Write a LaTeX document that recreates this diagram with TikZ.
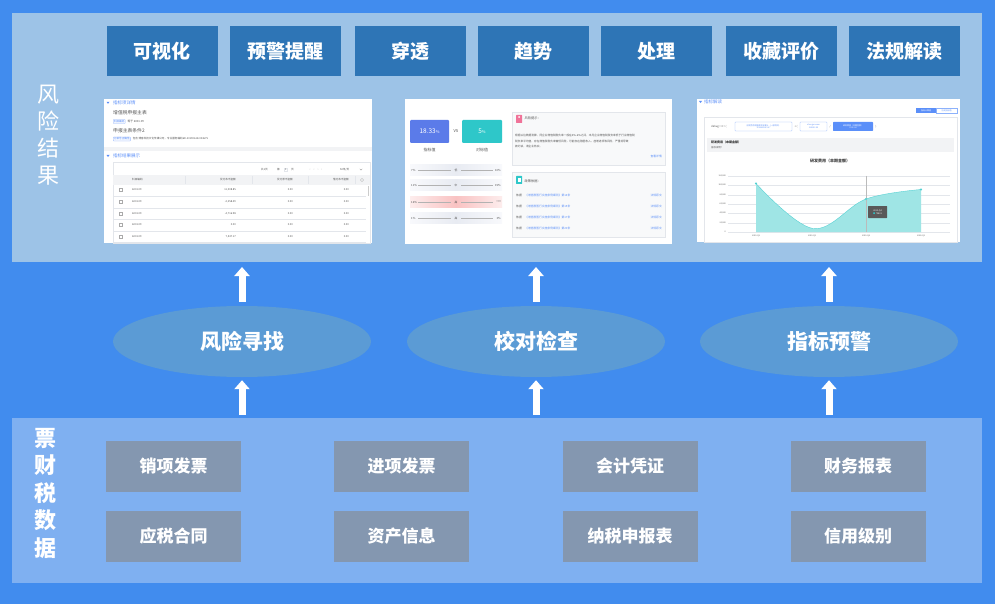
\documentclass[tikz,border=0pt]{standalone}
\usepackage{fontspec}
\setmainfont{Noto Sans CJK SC}
\usetikzlibrary{arrows.meta,shapes.geometric}
\definecolor{bgblue}{HTML}{418CEE}
\definecolor{toppanel}{HTML}{9DC3E7}
\definecolor{btnblue}{HTML}{2E75B6}
\definecolor{ellblue}{HTML}{5B9BD5}
\definecolor{botpanel}{HTML}{7FB0F1}
\definecolor{graybox}{HTML}{8497B0}
\definecolor{uiblue}{HTML}{5B8FF9}
\definecolor{uiteal}{HTML}{2EC7C9}
\definecolor{uitext}{HTML}{555555}
\definecolor{uiline}{HTML}{E3E6EB}
\definecolor{uigray}{HTML}{F2F3F5}
\definecolor{uipink}{HTML}{F07399}
\definecolor{areateal}{HTML}{9FE5E5}
\definecolor{vsblue}{HTML}{5B7BE9}
\newcommand{\tinyfs}[1]{\fontsize{#1}{#1}\selectfont}
\begin{document}
\begin{tikzpicture}[x=1pt,y=-1pt,
  btn/.style={fill=btnblue,text=white,minimum width=111pt,minimum height=50pt,inner sep=0pt,font=\fontsize{19}{22}\selectfont\bfseries},
  ell/.style={ellipse,fill=ellblue,text=white,minimum width=258pt,minimum height=71pt,inner sep=0pt,font=\fontsize{21}{24}\selectfont\bfseries},
  gbox/.style={fill=graybox,text=white,minimum width=135pt,minimum height=51pt,inner sep=0pt,font=\fontsize{17}{20}\selectfont\bfseries},
  panel/.style={inner sep=0pt,outer sep=0pt},
  shot/.style={fill=white,inner sep=0pt,outer sep=0pt},
  uparr/.style={white,line width=7pt,-{Triangle[width=15pt,length=9pt]}},
  side/.style={text=white,align=center,inner sep=0pt},
  tx/.style={inner sep=0pt,text=uitext},
  tag/.style={draw=uiblue!60,fill=uiblue!8,rounded corners=0.6pt,inner sep=0.8pt,text=uiblue,font=\tinyfs{2.6}},
  hdr/.style={inner sep=0pt,text=uiblue,font=\tinyfs{4.5}},
]
\useasboundingbox (0,0) rectangle (995,604);
\fill[bgblue] (0,0) rectangle (995,604);

% panels
\node[panel,fill=toppanel,minimum width=970pt,minimum height=249pt] (toppan) at (497,137.5) {};
\node[panel,fill=botpanel,minimum width=970pt,minimum height=165pt] (botpan) at (497,500.5) {};

% side labels
\node[side,font=\fontsize{22}{27}\selectfont] (lab1) at (48,135) {风\\险\\结\\果};
\node[side,font=\fontsize{22}{27.5}\selectfont\bfseries] (lab2) at (45,493) {票\\财\\税\\数\\据};

% top buttons
\node[btn] (b1) at (162,51) {可视化};
\node[btn] (b2) at (285.5,51) {预警提醒};
\node[btn] (b3) at (410,51) {穿透};
\node[btn] (b4) at (533,51) {趋势};
\node[btn] (b5) at (656.5,51) {处理};
\node[btn] (b6) at (781.5,51) {收藏评价};
\node[btn] (b7) at (904.5,51) {法规解读};

% ===== screenshot 1 =====
\node[shot,minimum width=268pt,minimum height=144pt] (s1) at (238,171) {};
\fill[uiblue] (106.5,101.8) -- (109.5,101.8) -- (108,103.8) -- cycle;
\node[hdr,anchor=west] (s1h1) at (113,103) {指标项详情};
\node[tx,anchor=west,font=\tinyfs{4.8}] (s1a) at (113,112.5) {增值税申报主表};
\node[tag,anchor=west] (s1t1) at (113,121.5) {科目编码};
\node[tx,anchor=west,font=\tinyfs{2.8}] (s1b) at ([xshift=2pt]s1t1.east) {等于\ 6001.09};
\node[tx,anchor=west,font=\tinyfs{4.8}] (s1c) at (113,130.5) {申报主表条件2};
\node[tag,anchor=west] (s1t2) at (113,139) {订单号正确性};
\node[tx,anchor=west,font=\tinyfs{2.6}] (s1d) at ([xshift=2pt]s1t2.east) {包含\ 博客科技文化传媒公司，专业服务编码6D-20190618-004675};
\fill[uigray] (104,147) rectangle (372,151);
\fill[uiblue] (106.5,155) -- (109.5,155) -- (108,157) -- cycle;
\node[hdr,anchor=west] (s1h2) at (113,156) {指标结果展示};
\draw[uiline,line width=0.4pt] (113,162) rectangle (370,243);
\node[tx,anchor=west,font=\tinyfs{2.6}] (s1p1) at (261,169.5) {共1页};
\node[tx,anchor=west,font=\tinyfs{2.6}] (s1p2) at (277,169.5) {第};
\node[draw=uiline,inner sep=0.6pt,font=\tinyfs{2.6},text=uitext] (s1p3) at (285.5,169.5) {\ 1\ };
\node[tx,anchor=west,font=\tinyfs{2.6}] (s1p4) at (291,169.5) {页};
\node[tx,font=\tinyfs{3},text=uitext!50] (s1p5) at (316,169.5) {‹\quad ‹\quad ›\quad ›};
\node[tx,anchor=west,font=\tinyfs{2.6}] (s1p6) at (340,169.5) {50条/页};
\draw[uitext!60,line width=0.3pt] (359.8,168.8) -- (361,170.2) -- (362.2,168.8);
\fill[uigray] (113.2,175) rectangle (369.8,185);
\node[tx,anchor=west,font=\tinyfs{2.6}] (s1c1) at (132,180) {科目编码};
\node[tx,anchor=east,font=\tinyfs{2.6}] (s1c2) at (236,180) {贷方本币金额};
\node[tx,anchor=east,font=\tinyfs{2.6}] (s1c3) at (293,180) {贷方原币金额};
\node[tx,anchor=east,font=\tinyfs{2.6}] (s1c4) at (349,180) {借方本币金额};
\draw[uiline,line width=0.3pt] (185,176) -- (185,184) (252,176) -- (252,184) (308,176) -- (308,184) (355,176) -- (355,184);
\draw[uitext!40,line width=0.4pt] (362,180) circle (1.6pt);
\fill[uitext!30] (367.5,186) rectangle (368.7,196);
\foreach \yy/\va [count=\i] in {190/11{,}008.85,202/-2{,}258.49,213.5/-4{,}716.98,225/0.00,236.5/7{,}547.17}{
  \draw[uitext!50,line width=0.3pt] (119,\yy-1.5) rectangle (122,\yy+1.5);
  \node[tx,anchor=west,font=\tinyfs{2.6}] (s1r\i a) at (132,\yy) {6001.09};
  \node[tx,anchor=east,font=\tinyfs{2.6}] (s1r\i b) at (236,\yy) {\va};
  \node[tx,anchor=east,font=\tinyfs{2.6}] (s1r\i c) at (293,\yy) {0.00};
  \node[tx,anchor=east,font=\tinyfs{2.6}] (s1r\i d) at (349,\yy) {0.00};
  \draw[uiline,line width=0.3pt] (113.2,\yy+5.75) -- (366,\yy+5.75);
}

% ===== screenshot 2 =====
\node[shot,minimum width=267pt,minimum height=145pt] (s2) at (538.5,171.5) {};
\node[fill=vsblue,rounded corners=1pt,minimum width=39pt,minimum height=23pt,inner sep=0pt,text=white,font=\tinyfs{6.5}] (s2v1) at (429.5,131.5) {18.33\tinyfs{4}\%};
\node[tx,font=\tinyfs{4}] (s2vs) at (456,131.5) {VS};
\node[fill=uiteal,rounded corners=1pt,minimum width=40pt,minimum height=23pt,inner sep=0pt,text=white,font=\tinyfs{6.5}] (s2v2) at (482,131.5) {5\tinyfs{4}\%};
\node[tx,font=\tinyfs{4}] (s2l1) at (429.5,150) {指标值};
\node[tx,font=\tinyfs{4}] (s2l2) at (482,150) {对标值};
\foreach \yy/\a/\m/\b/\cl/\cm [count=\i] in {170/7\%/低/10\%/F8F9FC/E8EBF2,185.5/11\%/中/15\%/F8F9FC/E8EBF2,202/16\%/高/+∞/FDEDED/F9C2C2,218/1\%/高/3\%/F8F9FC/E8EBF2}{
  \definecolor{bandl}{HTML}{\cl}\definecolor{bandm}{HTML}{\cm}
  \shade[left color=bandl,right color=bandl,middle color=bandm] (410,\yy-5.5) rectangle (502,\yy+5.5);
  \draw[uitext!45,line width=0.3pt] (418,\yy) -- (451,\yy) (461,\yy) -- (493,\yy);
  \node[tx,anchor=west,font=\tinyfs{2.8}] (s2a\i) at (411,\yy) {\a};
  \node[tx,font=\tinyfs{2.8}] (s2m\i) at (456,\yy) {\m};
  \node[tx,anchor=east,font=\tinyfs{2.8}] (s2b\i) at (501,\yy) {\b};
}
\draw[uiline,fill=uigray!50,line width=0.4pt] (512,112) rectangle (665,165);
\fill[uipink,rounded corners=0.5pt] (516,115) rectangle (522,123);
\fill[white] (519,117) circle (1pt);
\node[tx,anchor=west,font=\tinyfs{3.2}] (s2r1) at (524.5,118.5) {风险提示：};
\node[tx,anchor=north west,align=left,font=\fontsize{2.7}{5.3}\selectfont] (s2r2) at (515,134.5) {根据以往数据测算，同企业增值税税负率一般在4\%-6\%之间，本月企业增值税税负率低于行业增值税\\税负率平均值，存在增值税税负率偏低风险，可能存在隐匿收入、虚增进项等风险，严重将导致\\被约谈，请企业核实。};
\node[tx,anchor=east,text=uiblue,font=\tinyfs{2.8}] (s2r3) at (662,156) {查看详情};
\draw[uiline,fill=uigray!50,line width=0.4pt] (512,172) rectangle (665,237);
\fill[uiteal,rounded corners=0.5pt] (516,176) rectangle (522,184);
\fill[white] (517.5,178) rectangle (520.5,182.5);
\node[tx,anchor=west,font=\tinyfs{3.2}] (s2p0) at (524.5,181) {政策依据：};
\foreach \yy/\n [count=\i] in {195/14,206/15,217/17,228/20}{
  \node[tx,anchor=west,font=\tinyfs{2.8}] (s2p\i a) at (516,\yy) {依据};
  \node[tx,anchor=west,text=uiblue,font=\tinyfs{2.8}] (s2p\i b) at (525,\yy) {《增值税暂行实施条例细则》第\n 条};
  \node[tx,anchor=east,text=uiblue,font=\tinyfs{2.8}] (s2p\i c) at (662,\yy) {法规原文};
}

% ===== screenshot 3 =====
\node[shot,minimum width=263pt,minimum height=143pt] (s3) at (828.5,170.5) {};
\fill[uiblue] (699,101) -- (702,101) -- (700.5,103) -- cycle;
\node[hdr,anchor=west] (s3h) at (704,102) {指标解读};
\node[fill=uiblue,minimum width=20pt,minimum height=5pt,inner sep=0pt,text=white,font=\tinyfs{2}] (s3b1) at (926,110.5) {指标计算值};
\node[draw=uiblue!70,minimum width=21pt,minimum height=5pt,inner sep=0pt,text=uiblue,font=\tinyfs{2}] (s3b2) at (946.5,110.5) {历史指标值};
\draw[uiline,line width=0.4pt] (704,117) rectangle (957,242);
\node[tx,anchor=west,font=\tinyfs{2.6}] (s3f0) at (711,126.5) {debug = 0 = (};
\node[draw=uiblue!60,rounded corners=0.6pt,minimum width=57pt,minimum height=9pt,inner sep=0pt,align=center,text=uiblue,font=\fontsize{2}{2.6}\selectfont] (s3f1) at (763.5,126.5) {应税劳务销售额本年累计（一般项目）\\1524695863.67};
\node[tx,font=\tinyfs{2.6}] (s3f2) at (796,126.5) {+ (};
\node[draw=uiblue!60,rounded corners=0.6pt,minimum width=27pt,minimum height=9pt,inner sep=0pt,align=center,text=uiblue,font=\fontsize{2}{2.6}\selectfont] (s3f3) at (813.5,126.5) {change name\\120102.00};
\node[tx,font=\tinyfs{2.6}] (s3f4) at (830,126.5) {/};
\node[fill=uiblue,rounded corners=0.6pt,minimum width=40pt,minimum height=9pt,inner sep=0pt,align=center,text=white,font=\fontsize{2}{2.6}\selectfont] (s3f5) at (853,126.5) {研发费用（本期金额）\\9315.00};
\node[tx,font=\tinyfs{2.6}] (s3f6) at (876,126.5) {)};
\fill[uigray] (707,138) rectangle (954,152);
\node[tx,anchor=west,text=black!80,font=\tinyfs{3}\bfseries] (s3g1) at (711,142) {研发费用（本期金额）};
\node[tx,anchor=west,font=\tinyfs{2.4}] (s3g2) at (711,148) {指标说明？};
\node[tx,text=black!75,font=\tinyfs{4}\bfseries] (s3t) at (830,161) {研发费用（本期金额）};
\foreach \v/\lab [count=\i] in {0/0,1/20{,}000,2/40{,}000,3/60{,}000,4/80{,}000,5/100{,}000,6/120{,}000}{
  \draw[uiline,line width=0.3pt] (728,232-\v*9.33) -- (950,232-\v*9.33);
  \node[tx,anchor=east,font=\tinyfs{2}] (s3y\i) at (726,232-\v*9.33) {\lab};
}
\fill[areateal] (756,232) -- plot[smooth,tension=0.6] coordinates {(756,183.5) (813,228.5) (866,199) (921,189.5)} -- (921,232) -- cycle;
\draw[uiteal!80,line width=0.4pt] plot[smooth,tension=0.6] coordinates {(756,183.5) (813,228.5) (866,199) (921,189.5)};
\draw[uitext!40,line width=0.3pt] (866,176) -- (866,232);
\foreach \px/\py in {756/183.5,866/199,921/189.5}{
  \draw[uiteal,fill=white,line width=0.3pt] (\px,\py) circle (0.9pt);
}
\foreach \px/\lab [count=\i] in {756/2019-Q2,812/2019-Q3,866/2019-Q4,921/2020-Q1}{
  \node[tx,font=\tinyfs{2}] (s3x\i) at (\px,236) {\lab};
}
\node[fill=black!65,rounded corners=0.5pt,minimum width=19pt,minimum height=12pt,inner sep=0pt,align=center,text=white,font=\fontsize{2.2}{3.2}\selectfont] (s3tip) at (877.5,212) {2019-Q4\\\textcolor{uiteal}{●}\ 70531};

% ellipses
\node[ell] (e1) at (242,341.5) {风险寻找};
\node[ell] (e2) at (536,341.5) {校对检查};
\node[ell] (e3) at (829,341.5) {指标预警};

% arrows
\draw[uparr] ([yshift=4pt]e1.north) -- ([yshift=-5pt]e1.north |- toppan.south);
\draw[uparr] ([yshift=4pt]e2.north) -- ([yshift=-5pt]e2.north |- toppan.south);
\draw[uparr] ([yshift=4pt]e3.north) -- ([yshift=-5pt]e3.north |- toppan.south);
\draw[uparr] ([yshift=3pt]e1.south |- botpan.north) -- ([yshift=-3pt]e1.south);
\draw[uparr] ([yshift=3pt]e2.south |- botpan.north) -- ([yshift=-3pt]e2.south);
\draw[uparr] ([yshift=3pt]e3.south |- botpan.north) -- ([yshift=-3pt]e3.south);

% data boxes
\node[gbox] (d1) at (173.5,466.5) {销项发票};
\node[gbox] (d2) at (401.5,466.5) {进项发票};
\node[gbox] (d3) at (630,466.5) {会计凭证};
\node[gbox] (d4) at (858,466.5) {财务报表};
\node[gbox] (d5) at (173.5,536.5) {应税合同};
\node[gbox] (d6) at (401.5,536.5) {资产信息};
\node[gbox] (d7) at (630,536.5) {纳税申报表};
\node[gbox] (d8) at (858,536.5) {信用级别};
\end{tikzpicture}
\end{document}
